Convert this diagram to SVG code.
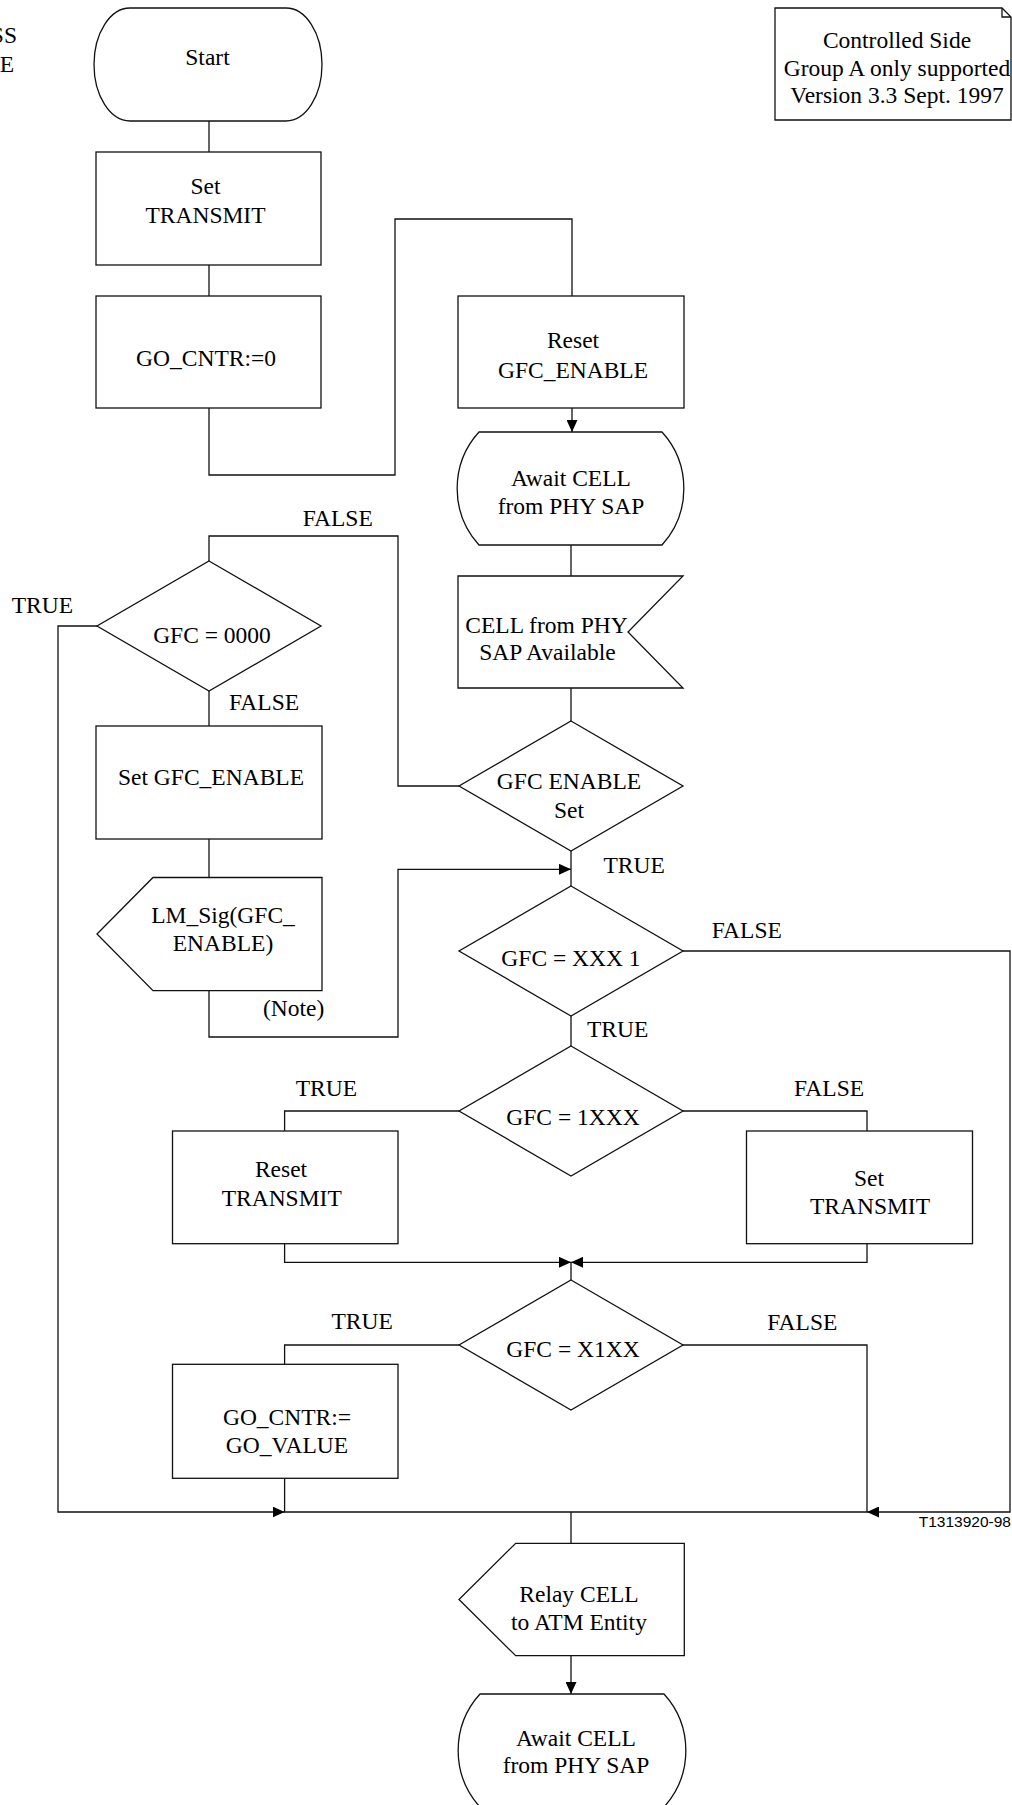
<svg xmlns="http://www.w3.org/2000/svg" width="1012" height="1805" viewBox="0 0 1012 1805">
<style>
.s{fill:#fff;stroke:#111;stroke-width:1.3}
.c{fill:none;stroke:#111;stroke-width:1.3}
text{font-family:"Liberation Serif","Times New Roman",serif;font-size:23.5px;fill:#000}
.m{text-anchor:middle}
.sans{font-family:"Liberation Sans",Arial,sans-serif;font-size:15.5px;text-anchor:end}
</style>
<defs>
<marker id="ah" viewBox="0 0 12 11" markerWidth="12" markerHeight="11" refX="12" refY="5.5" orient="auto" markerUnits="userSpaceOnUse"><path d="M0,0 L12,5.5 L0,11 Z" fill="#000"/></marker>
</defs>
<rect width="1012" height="1805" fill="#fff"/>
<text x="17" y="42.7" style="text-anchor:end">SS</text>
<text x="14" y="71.7" style="text-anchor:end">E</text>
<g id="connectors">
<path class="c" d="M209,121 V152"/>
<path class="c" d="M209,265 V296"/>
<path class="c" d="M209,408 V475 H395 V219 H572 V296"/>
<path class="c" d="M572,408 V432" marker-end="url(#ah)"/>
<path class="c" d="M571,545 V576"/>
<path class="c" d="M571,688 V721"/>
<path class="c" d="M459,786 H398 V536 H209 V561"/>
<path class="c" d="M571,851 V886"/>
<path class="c" d="M97,626 H58 V1512 H284.6" marker-end="url(#ah)"/>
<path class="c" d="M209,691 V726"/>
<path class="c" d="M209,839 V877.5"/>
<path class="c" d="M209,990.7 V1037 H398 V869.3 H571" marker-end="url(#ah)"/>
<path class="c" d="M683,951 H1010 V1512 H867" marker-end="url(#ah)"/>
<path class="c" d="M571,1016 V1046"/>
<path class="c" d="M459,1111 H284.6 V1131"/>
<path class="c" d="M683,1111 H867 V1131"/>
<path class="c" d="M284.6,1243.7 V1262.3 H571" marker-end="url(#ah)"/>
<path class="c" d="M867,1243.7 V1262.3 H571" marker-end="url(#ah)"/>
<path class="c" d="M571,1262.3 V1280"/>
<path class="c" d="M459,1345 H284.6 V1364.3"/>
<path class="c" d="M683,1345 H867 V1512"/>
<path class="c" d="M284.6,1478.3 V1512 H867"/>
<path class="c" d="M571,1512 V1543.3"/>
<path class="c" d="M571,1655.7 V1694" marker-end="url(#ah)"/>
</g>
<g id="labels">
<text x="302.7" y="526.4">FALSE</text>
<text x="11.7" y="613">TRUE</text>
<text x="229" y="710.4">FALSE</text>
<text x="603.5" y="872.5">TRUE</text>
<text x="711.8" y="938">FALSE</text>
<text x="263" y="1015.7">(Note)</text>
<text x="587" y="1036.5">TRUE</text>
<text x="295.7" y="1096">TRUE</text>
<text x="794" y="1096">FALSE</text>
<text x="331.4" y="1329.3">TRUE</text>
<text x="767.3" y="1330">FALSE</text>
<text class="sans" x="1011" y="1527">T1313920-98</text>
</g>
<g id="note">
<path class="s" d="M775,8 H1002 L1011,17 V120 H775 Z"/>
<path class="c" d="M1002,8 V17 H1011"/>
<text class="m" x="897" y="48.3">Controlled Side</text>
<text class="m" x="897" y="75.5">Group A only supported</text>
<text class="m" x="897" y="102.5">Version 3.3 Sept. 1997</text>
</g>
<g id="start">
<path class="s" d="M130,8 H286 A36,56.5 0 0 1 286,121 H130 A36,56.5 0 0 1 130,8 Z"/>
<text class="m" x="207.5" y="65">Start</text>
</g>
<g id="set_transmit_1">
<rect class="s" x="96" y="152" width="225" height="113"/>
<text class="m" x="205.5" y="194">Set</text>
<text class="m" x="205.5" y="222.7">TRANSMIT</text>
</g>
<g id="go_cntr_0">
<rect class="s" x="96" y="296" width="225" height="112"/>
<text class="m" x="206" y="365.7">GO_CNTR:=0</text>
</g>
<g id="reset_gfc_enable">
<rect class="s" x="458" y="296" width="226" height="112"/>
<text class="m" x="573" y="348.3">Reset</text>
<text class="m" x="573" y="377.7">GFC_ENABLE</text>
</g>
<g id="await_1">
<path class="s" d="M479,432 H662 A84,84 0 0 1 662,545 H479 A84,84 0 0 1 479,432 Z"/>
<text class="m" x="571" y="485.5">Await CELL</text>
<text class="m" x="571" y="514">from PHY SAP</text>
</g>
<g id="cell_input">
<path class="s" d="M458,576 H683 L628,632 L683,688 H458 Z"/>
<text class="m" x="546.5" y="633">CELL from PHY</text>
<text class="m" x="547.5" y="660.4">SAP Available</text>
</g>
<g id="gfc_enable_set">
<polygon class="s" points="571,721 683,786 571,851 459,786"/>
<text class="m" x="569" y="789">GFC ENABLE</text>
<text class="m" x="569" y="817.5">Set</text>
</g>
<g id="gfc_0000">
<polygon class="s" points="209,561 321,626 209,691 97,626"/>
<text class="m" x="212" y="642.5">GFC = 0000</text>
</g>
<g id="set_gfc_enable">
<rect class="s" x="96" y="726" width="226" height="113"/>
<text class="m" x="211" y="785.4">Set GFC_ENABLE</text>
</g>
<g id="lm_sig">
<polygon class="s" points="153,877.5 322,877.5 322,990.7 153,990.7 97,934"/>
<text class="m" x="223" y="923">LM_Sig(GFC_</text>
<text class="m" x="223" y="950.7">ENABLE)</text>
</g>
<g id="gfc_xxx1">
<polygon class="s" points="571,886 683,951 571,1016 459,951"/>
<text class="m" x="571" y="965.7">GFC = XXX 1</text>
</g>
<g id="gfc_1xxx">
<polygon class="s" points="571,1046 683,1111 571,1176 459,1111"/>
<text class="m" x="573" y="1125">GFC = 1XXX</text>
</g>
<g id="reset_transmit">
<rect class="s" x="172.5" y="1131" width="225.5" height="112.7"/>
<text class="m" x="281" y="1176.7">Reset</text>
<text class="m" x="281.7" y="1205.7">TRANSMIT</text>
</g>
<g id="set_transmit_2">
<rect class="s" x="746.5" y="1131" width="226" height="112.7"/>
<text class="m" x="869" y="1186">Set</text>
<text class="m" x="870" y="1214.3">TRANSMIT</text>
</g>
<g id="gfc_x1xx">
<polygon class="s" points="571,1280 683,1345 571,1410 459,1345"/>
<text class="m" x="573" y="1356.7">GFC = X1XX</text>
</g>
<g id="go_cntr_value">
<rect class="s" x="172.5" y="1364.3" width="225.5" height="114"/>
<text class="m" x="287" y="1425">GO_CNTR:=</text>
<text class="m" x="287" y="1452.7">GO_VALUE</text>
</g>
<g id="relay_cell">
<polygon class="s" points="515.7,1543.3 684.3,1543.3 684.3,1655.7 515.7,1655.7 459,1599.5"/>
<text class="m" x="579" y="1601.7">Relay CELL</text>
<text class="m" x="579" y="1630">to ATM Entity</text>
</g>
<g id="await_2">
<path class="s" d="M480,1694 H664 A84,84 0 0 1 664,1807 H480 A84,84 0 0 1 480,1694 Z"/>
<text class="m" x="576" y="1745.7">Await CELL</text>
<text class="m" x="576" y="1773.3">from PHY SAP</text>
</g>
</svg>
